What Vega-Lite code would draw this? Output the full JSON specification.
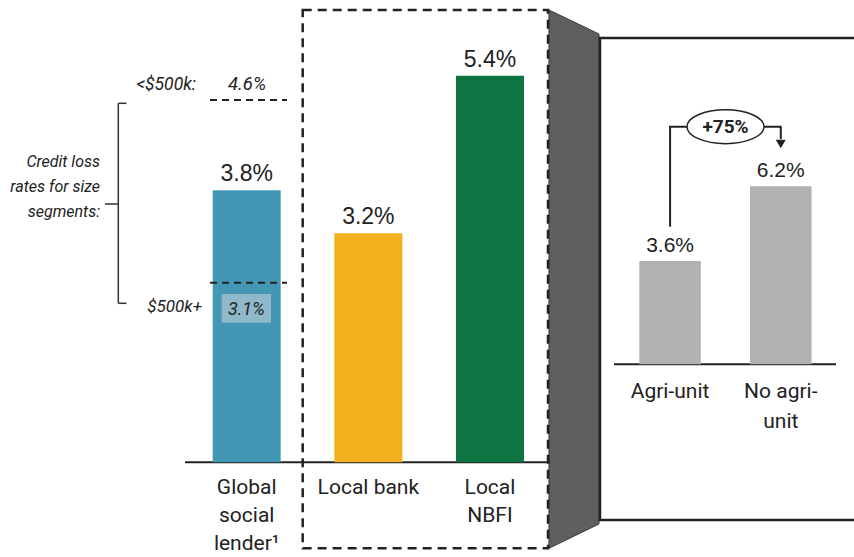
{
  "$schema": "https://vega.github.io/schema/vega-lite/v6.json",
  "width": 854,
  "height": 557,
  "autosize": {"type": "none"},
  "padding": 0,
  "background": "white",
  "config": {"view": {"stroke": null}, "font": "Roboto", "text": {"color": "#222222"}},
  "resolve": {"scale": {"x": "independent", "y": "independent", "color": "independent"}},
  "layer": [
    {
      "data": {"values": [{}]},
      "layer": [
        {
          "mark": {"type": "point", "shape": "M -0.0929 -1 L 0.0929 -0.9108 L 0.0929 0.9097 L -0.0929 1 Z", "filled": true, "fill": "#5f5f5f", "stroke": "#3a3a3a", "strokeWidth": 1, "size": 289770, "opacity": 1},
          "encoding": {
            "x": {"datum": 574, "type": "quantitative", "scale": {"domain": [0, 854], "nice": false, "zero": false}, "axis": null},
            "y": {"datum": 2.558, "type": "quantitative", "scale": {"domain": [-1.3226, 6.4567], "nice": false, "zero": false}, "axis": null}
          }
        },
        {
          "mark": {"type": "rect", "fillOpacity": 0, "stroke": "#222222", "strokeWidth": 2.5, "strokeDash": [9, 6]},
          "encoding": {
            "x": {"datum": 302.7, "type": "quantitative", "scale": {"domain": [0, 854], "nice": false, "zero": false}, "axis": null},
            "x2": {"datum": 548},
            "y": {"datum": 6.317, "type": "quantitative", "scale": {"domain": [-1.3226, 6.4567], "nice": false, "zero": false}, "axis": null},
            "y2": {"datum": -1.2011}
          }
        },
        {
          "mark": {"type": "rect", "fillOpacity": 0, "stroke": "#222222", "strokeWidth": 2.5},
          "encoding": {
            "x": {"datum": 600, "type": "quantitative", "scale": {"domain": [0, 854], "nice": false, "zero": false}, "axis": null},
            "x2": {"datum": 900},
            "y": {"datum": 5.926, "type": "quantitative", "scale": {"domain": [-1.3226, 6.4567], "nice": false, "zero": false}, "axis": null},
            "y2": {"datum": -0.806}
          }
        },
        {
          "mark": {"type": "rule", "stroke": "#222222", "strokeWidth": 2},
          "encoding": {
            "x": {"datum": 185, "type": "quantitative", "scale": {"domain": [0, 854], "nice": false, "zero": false}, "axis": null},
            "x2": {"datum": 550},
            "y": {"datum": 0, "type": "quantitative", "scale": {"domain": [-1.3226, 6.4567], "nice": false, "zero": false}, "axis": null}
          }
        },
        {
          "mark": {"type": "rule", "stroke": "#222222", "strokeWidth": 2},
          "encoding": {
            "x": {"datum": 614, "type": "quantitative", "scale": {"domain": [0, 854], "nice": false, "zero": false}, "axis": null},
            "x2": {"datum": 836},
            "y": {"datum": 1.3687, "type": "quantitative", "scale": {"domain": [-1.3226, 6.4567], "nice": false, "zero": false}, "axis": null}
          }
        }
      ]
    },
    {
      "data": {"values": [
        {"category": "Global social lender", "label": "Global\nsocial\nlender¹", "value": 0.038},
        {"category": "Local bank", "label": "Local bank", "value": 0.032},
        {"category": "Local NBFI", "label": "Local\nNBFI", "value": 0.054}
      ]},
      "encoding": {
        "x": {"field": "category", "type": "nominal", "sort": null, "axis": null,
              "scale": {"type": "band", "domain": [" ", "Global social lender", "Local bank", "Local NBFI", "  ", "   "], "paddingInner": 0.441, "paddingOuter": 0.7306, "align": 0.5122, "round": false}}
      },
      "layer": [
        {
          "mark": {"type": "bar"},
          "encoding": {
            "y": {"field": "value", "type": "quantitative", "axis": null, "scale": {"domain": [-0.013226, 0.064567], "nice": false, "zero": false}},
            "y2": {"datum": 0},
            "color": {"field": "category", "type": "nominal", "legend": null,
                      "scale": {"domain": ["Global social lender", "Local bank", "Local NBFI"], "range": ["#4397b5", "#f2b01e", "#0e7542"]}}
          }
        },
        {
          "mark": {"type": "text", "baseline": "alphabetic", "dy": -9, "fontSize": 23, "font": "Liberation Sans"},
          "encoding": {
            "y": {"field": "value", "type": "quantitative"},
            "text": {"field": "value", "type": "quantitative", "format": ".1%"}
          }
        },
        {
          "mark": {"type": "text", "baseline": "alphabetic", "fontSize": 21, "lineHeight": 28, "lineBreak": "\n"},
          "encoding": {
            "y": {"datum": -0.00443, "type": "quantitative"},
            "text": {"field": "label"}
          }
        }
      ]
    },
    {
      "data": {"values": [
        {"category": "Agri-unit", "label": "Agri-unit", "value": 0.036},
        {"category": "No agri-unit", "label": "No agri-\nunit", "value": 0.062}
      ]},
      "layer": [
        {
          "mark": {"type": "bar", "color": "#b1b1b1"},
          "encoding": {
            "x": {"field": "category", "type": "nominal", "sort": null, "axis": null,
                  "scale": {"type": "band", "domain": [" ", "  ", "   ", "    ", "     ", "Agri-unit", "No agri-unit"], "paddingInner": 0.4444, "paddingOuter": 0.5795, "align": 0.669, "round": false}},
            "y": {"field": "value", "type": "quantitative", "axis": null, "scale": {"domain": [-0.06714, 0.12693], "nice": false, "zero": false}},
            "y2": {"datum": 0}
          }
        },
        {
          "mark": {"type": "text", "baseline": "alphabetic", "dy": -9, "fontSize": 21, "font": "Liberation Sans"},
          "encoding": {
            "x": {"field": "category", "type": "nominal", "sort": null},
            "y": {"field": "value", "type": "quantitative"},
            "text": {"field": "value", "type": "quantitative", "format": ".1%"}
          }
        },
        {
          "mark": {"type": "text", "baseline": "alphabetic", "fontSize": 21, "lineHeight": 30, "lineBreak": "\n"},
          "encoding": {
            "x": {"field": "category", "type": "nominal", "sort": null},
            "y": {"datum": -0.011847, "type": "quantitative"},
            "text": {"field": "label"}
          }
        },
        {
          "data": {"values": [{}]},
          "mark": {"type": "rule", "stroke": "#222222", "strokeWidth": 2},
          "encoding": {
            "x": {"datum": "Agri-unit", "type": "nominal"},
            "y": {"datum": 0.04794, "type": "quantitative"},
            "y2": {"datum": 0.08279}
          }
        },
        {
          "data": {"values": [{}]},
          "mark": {"type": "rule", "stroke": "#222222", "strokeWidth": 2},
          "encoding": {
            "x": {"datum": "No agri-unit", "type": "nominal"},
            "y": {"datum": 0.0785, "type": "quantitative"},
            "y2": {"datum": 0.08279}
          }
        },
        {
          "data": {"values": [{}]},
          "mark": {"type": "point", "shape": "triangle-down", "filled": true, "color": "#222222", "size": 100, "opacity": 1},
          "encoding": {
            "x": {"datum": "No agri-unit", "type": "nominal"},
            "y": {"datum": 0.07676, "type": "quantitative"}
          }
        }
      ]
    },
    {
      "data": {"values": [{}]},
      "layer": [
        {
          "mark": {"type": "rule", "stroke": "#222222", "strokeWidth": 2, "strokeDash": [7, 5]},
          "encoding": {
            "x": {"datum": 210, "type": "quantitative", "scale": {"domain": [0, 854], "nice": false, "zero": false}, "axis": null},
            "x2": {"datum": 287},
            "y": {"datum": 5.0601, "type": "quantitative", "scale": {"domain": [-1.3226, 6.4567], "nice": false, "zero": false}, "axis": null}
          }
        },
        {
          "mark": {"type": "rule", "stroke": "#222222", "strokeWidth": 2, "strokeDash": [7, 5]},
          "encoding": {
            "x": {"datum": 210, "type": "quantitative", "scale": {"domain": [0, 854], "nice": false, "zero": false}, "axis": null},
            "x2": {"datum": 287},
            "y": {"datum": 2.5084, "type": "quantitative", "scale": {"domain": [-1.3226, 6.4567], "nice": false, "zero": false}, "axis": null}
          }
        },
        {
          "mark": {"type": "rule", "stroke": "#333333", "strokeWidth": 1.5},
          "encoding": {
            "x": {"datum": 118.3, "type": "quantitative", "scale": {"domain": [0, 854], "nice": false, "zero": false}, "axis": null},
            "y": {"datum": 5.014, "type": "quantitative", "scale": {"domain": [-1.3226, 6.4567], "nice": false, "zero": false}, "axis": null},
            "y2": {"datum": 2.2207}
          }
        },
        {
          "mark": {"type": "rule", "stroke": "#333333", "strokeWidth": 1.5},
          "encoding": {
            "x": {"datum": 118.3, "type": "quantitative", "scale": {"domain": [0, 854], "nice": false, "zero": false}, "axis": null},
            "x2": {"datum": 126.5},
            "y": {"datum": 5.014, "type": "quantitative", "scale": {"domain": [-1.3226, 6.4567], "nice": false, "zero": false}, "axis": null}
          }
        },
        {
          "mark": {"type": "rule", "stroke": "#333333", "strokeWidth": 1.5},
          "encoding": {
            "x": {"datum": 118.3, "type": "quantitative", "scale": {"domain": [0, 854], "nice": false, "zero": false}, "axis": null},
            "x2": {"datum": 126.5},
            "y": {"datum": 2.2207, "type": "quantitative", "scale": {"domain": [-1.3226, 6.4567], "nice": false, "zero": false}, "axis": null}
          }
        },
        {
          "mark": {"type": "rule", "stroke": "#333333", "strokeWidth": 1.5},
          "encoding": {
            "x": {"datum": 105, "type": "quantitative", "scale": {"domain": [0, 854], "nice": false, "zero": false}, "axis": null},
            "x2": {"datum": 118.3},
            "y": {"datum": 3.6075, "type": "quantitative", "scale": {"domain": [-1.3226, 6.4567], "nice": false, "zero": false}, "axis": null}
          }
        },
        {
          "mark": {"type": "rect", "fill": "#8fb9cb"},
          "encoding": {
            "x": {"datum": 221.7, "type": "quantitative", "scale": {"domain": [0, 854], "nice": false, "zero": false}, "axis": null},
            "x2": {"datum": 271},
            "y": {"datum": 2.3506, "type": "quantitative", "scale": {"domain": [-1.3226, 6.4567], "nice": false, "zero": false}, "axis": null},
            "y2": {"datum": 1.9497}
          }
        },
        {
          "mark": {"type": "text", "text": "Credit loss\nrates for size\nsegments:", "lineBreak": "\n", "align": "right", "baseline": "alphabetic", "fontStyle": "italic", "fontSize": 16, "lineHeight": 25},
          "encoding": {
            "x": {"datum": 100, "type": "quantitative", "scale": {"domain": [0, 854], "nice": false, "zero": false}, "axis": null},
            "y": {"datum": 4.128, "type": "quantitative", "scale": {"domain": [-1.3226, 6.4567], "nice": false, "zero": false}, "axis": null}
          }
        },
        {
          "mark": {"type": "text", "text": "<$500k:", "align": "right", "baseline": "alphabetic", "fontStyle": "italic", "fontSize": 17.5},
          "encoding": {
            "x": {"datum": 196, "type": "quantitative", "scale": {"domain": [0, 854], "nice": false, "zero": false}, "axis": null},
            "y": {"datum": 5.2025, "type": "quantitative", "scale": {"domain": [-1.3226, 6.4567], "nice": false, "zero": false}, "axis": null}
          }
        },
        {
          "mark": {"type": "text", "text": "4.6%", "align": "center", "baseline": "alphabetic", "fontStyle": "italic", "fontSize": 18.5},
          "encoding": {
            "x": {"datum": 247, "type": "quantitative", "scale": {"domain": [0, 854], "nice": false, "zero": false}, "axis": null},
            "y": {"datum": 5.2025, "type": "quantitative", "scale": {"domain": [-1.3226, 6.4567], "nice": false, "zero": false}, "axis": null}
          }
        },
        {
          "mark": {"type": "text", "text": "$500k+", "align": "right", "baseline": "alphabetic", "fontStyle": "italic", "fontSize": 17},
          "encoding": {
            "x": {"datum": 202, "type": "quantitative", "scale": {"domain": [0, 854], "nice": false, "zero": false}, "axis": null},
            "y": {"datum": 2.103, "type": "quantitative", "scale": {"domain": [-1.3226, 6.4567], "nice": false, "zero": false}, "axis": null}
          }
        },
        {
          "mark": {"type": "text", "text": "3.1%", "align": "center", "baseline": "alphabetic", "fontStyle": "italic", "fontSize": 18},
          "encoding": {
            "x": {"datum": 246.4, "type": "quantitative", "scale": {"domain": [0, 854], "nice": false, "zero": false}, "axis": null},
            "y": {"datum": 2.057, "type": "quantitative", "scale": {"domain": [-1.3226, 6.4567], "nice": false, "zero": false}, "axis": null}
          }
        },
        {
          "mark": {"type": "rule", "stroke": "#222222", "strokeWidth": 2},
          "encoding": {
            "x": {"datum": 669, "type": "quantitative", "scale": {"domain": [0, 854], "nice": false, "zero": false}, "axis": null},
            "x2": {"datum": 781.5},
            "y": {"datum": 4.6872, "type": "quantitative", "scale": {"domain": [-1.3226, 6.4567], "nice": false, "zero": false}, "axis": null}
          }
        },
        {
          "mark": {"type": "point", "shape": "M -1 0 A 1 0.44 0 1 1 1 0 A 1 0.44 0 1 1 -1 0 Z", "filled": true, "fill": "white", "stroke": "#222222", "strokeWidth": 1.5, "size": 5929, "opacity": 1},
          "encoding": {
            "x": {"datum": 725.5, "type": "quantitative", "scale": {"domain": [0, 854], "nice": false, "zero": false}, "axis": null},
            "y": {"datum": 4.6872, "type": "quantitative", "scale": {"domain": [-1.3226, 6.4567], "nice": false, "zero": false}, "axis": null}
          }
        },
        {
          "mark": {"type": "text", "text": "+75%", "align": "center", "baseline": "alphabetic", "fontWeight": "bold", "fontSize": 19},
          "encoding": {
            "x": {"datum": 725.5, "type": "quantitative", "scale": {"domain": [0, 854], "nice": false, "zero": false}, "axis": null},
            "y": {"datum": 4.595, "type": "quantitative", "scale": {"domain": [-1.3226, 6.4567], "nice": false, "zero": false}, "axis": null}
          }
        }
      ]
    }
  ]
}
